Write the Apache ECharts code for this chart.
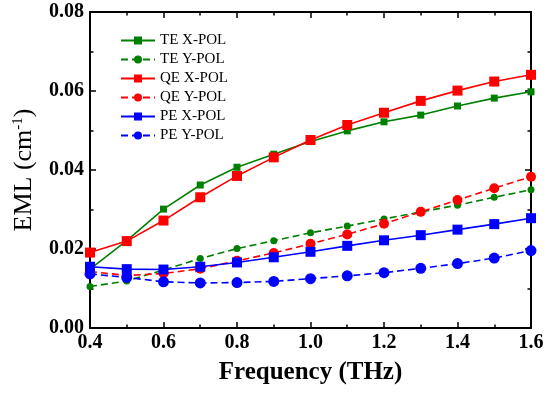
<!DOCTYPE html>
<html>
<head>
<meta charset="utf-8">
<script src="https://cdn.jsdelivr.net/npm/echarts@6/dist/echarts.min.js"></script>
<style>html,body{margin:0;padding:0;background:#fff}#c{width:550px;height:396px}</style>
</head>
<body>
<div id="c"></div>
<script>
var freq = [0.4, 0.5, 0.6, 0.7, 0.8, 0.9, 1.0, 1.1, 1.2, 1.3, 1.4, 1.5, 1.6];
var teX = [0.0149, 0.0221, 0.0301, 0.0362, 0.0407, 0.0440, 0.0472, 0.0499, 0.0522, 0.0539, 0.0562, 0.0582, 0.0598];
var teY = [0.0105, 0.0119, 0.0147, 0.0176, 0.0201, 0.0221, 0.0241, 0.0258, 0.0276, 0.0294, 0.0311, 0.0331, 0.0350];
var qeX = [0.0191, 0.0220, 0.0272, 0.0331, 0.0385, 0.0432, 0.0476, 0.0514, 0.0545, 0.0575, 0.0601, 0.0624, 0.0641];
var qeY = [0.0143, 0.0133, 0.0138, 0.0150, 0.0170, 0.0190, 0.0213, 0.0237, 0.0264, 0.0294, 0.0324, 0.0354, 0.0383];
var peX = [0.0155, 0.0149, 0.0148, 0.0155, 0.0166, 0.0179, 0.0193, 0.0208, 0.0222, 0.0235, 0.0249, 0.0263, 0.0278];
var peY = [0.0137, 0.0128, 0.0117, 0.0114, 0.0115, 0.0118, 0.0125, 0.0132, 0.0140, 0.0151, 0.0163, 0.0177, 0.0196];
var names = ['TE X-POL', 'TE Y-POL', 'QE X-POL', 'QE Y-POL', 'PE X-POL', 'PE Y-POL'];

function pairs(v) { return freq.map(function (f, i) { return [f, v[i]]; }); }
function mk(name, vals, color, symbol, size, dashed) {
  return {
    name: name, type: 'line', data: pairs(vals), symbol: symbol, symbolSize: size,
    itemStyle: { color: color },
    lineStyle: { color: color, width: 1.6, type: dashed ? [7, 4] : 'solid' },
    animation: false
  };
}
var font = 'Liberation Serif';
var chart = echarts.init(document.getElementById('c'), null, { renderer: 'canvas' });
function axisCommon() {
  return {
    axisLine: { show: true, onZero: false, lineStyle: { color: '#000', width: 2 } },
    axisTick: { show: true, inside: true, length: 6, lineStyle: { color: '#000', width: 1.5 } },
    minorTick: { show: true, splitNumber: 2, length: 3.5, lineStyle: { color: '#000', width: 1.5 } },
    splitLine: { show: false }
  };
}
chart.setOption({
  backgroundColor: '#fff',
  grid: { left: 90, right: 19, top: 12, bottom: 68, containLabel: false },
  legend: {
    orient: 'vertical', left: 115, top: 28, itemWidth: 34, itemHeight: 10, itemGap: 4,
    textStyle: { fontFamily: font, fontSize: 15, color: '#000' },
    data: names
  },
  xAxis: [
    Object.assign(axisCommon(), {
      type: 'value', min: 0.4, max: 1.6, interval: 0.2, position: 'bottom',
      name: 'Frequency (THz)', nameLocation: 'middle', nameGap: 32,
      nameTextStyle: { fontFamily: font, fontWeight: 'bold', fontSize: 25, color: '#000' },
      axisLabel: { fontFamily: font, fontWeight: 'bold', fontSize: 20, color: '#000', margin: 5,
        formatter: function (v) { return v.toFixed(1); } }
    }),
    Object.assign(axisCommon(), {
      type: 'value', min: 0.4, max: 1.6, interval: 0.2, position: 'top',
      axisLabel: { show: false }
    })
  ],
  yAxis: [
    Object.assign(axisCommon(), {
      type: 'value', min: 0, max: 0.08, interval: 0.02, position: 'left',
      name: '{a|EML (cm}{s|-1}{a|)}', nameLocation: 'middle', nameGap: 52,
      nameTextStyle: { rich: {
        a: { fontFamily: font, fontSize: 26, color: '#000' },
        s: { fontFamily: font, fontSize: 15, color: '#000', verticalAlign: 'top', padding: [0, 0, 12, 0] }
      } },
      axisLabel: { fontFamily: font, fontWeight: 'bold', fontSize: 20, color: '#000', margin: 6,
        formatter: function (v) { return v.toFixed(2); } }
    }),
    Object.assign(axisCommon(), {
      type: 'value', min: 0, max: 0.08, interval: 0.02, position: 'right',
      axisLabel: { show: false }
    })
  ],
  series: [
    mk(names[0], teX, '#008000', 'rect', 7, false),
    mk(names[1], teY, '#008000', 'circle', 7, true),
    mk(names[2], qeX, '#ff0000', 'rect', 10, false),
    mk(names[3], qeY, '#ff0000', 'circle', 10, true),
    mk(names[4], peX, '#0000ff', 'rect', 10, false),
    mk(names[5], peY, '#0000ff', 'circle', 11, true)
  ]
});
</script>
</body>
</html>
